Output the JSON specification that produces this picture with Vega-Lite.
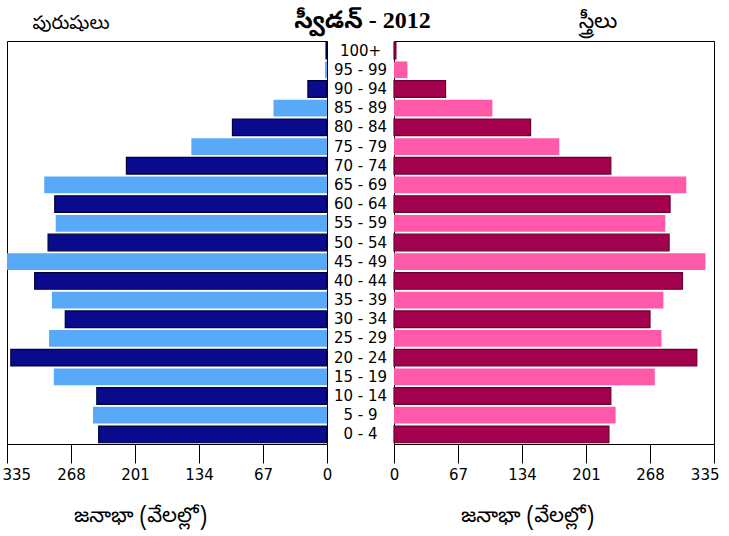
{
  "$schema": "https://vega.github.io/schema/vega-lite/v6.json",
  "padding": {"left": 1, "top": 9, "right": 5, "bottom": 5},
  "background": "white",
  "spacing": 0,
  "bounds": "flush",
  "data": {
    "values": [
      {"age": "100+", "male": 1, "female": 2},
      {"age": "95 - 99", "male": 2, "female": 14},
      {"age": "90 - 94", "male": 20, "female": 54},
      {"age": "85 - 89", "male": 56, "female": 103},
      {"age": "80 - 84", "male": 99, "female": 143},
      {"age": "75 - 79", "male": 142, "female": 173},
      {"age": "70 - 74", "male": 210, "female": 227},
      {"age": "65 - 69", "male": 296, "female": 306},
      {"age": "60 - 64", "male": 285, "female": 289},
      {"age": "55 - 59", "male": 284, "female": 284},
      {"age": "50 - 54", "male": 292, "female": 288},
      {"age": "45 - 49", "male": 335, "female": 326},
      {"age": "40 - 44", "male": 306, "female": 302},
      {"age": "35 - 39", "male": 288, "female": 282},
      {"age": "30 - 34", "male": 274, "female": 268},
      {"age": "25 - 29", "male": 291, "female": 280},
      {"age": "20 - 24", "male": 331, "female": 317},
      {"age": "15 - 19", "male": 286, "female": 273},
      {"age": "10 - 14", "male": 241, "female": 227},
      {"age": "5 - 9", "male": 245, "female": 232},
      {"age": "0 - 4", "male": 239, "female": 225}
    ]
  },
  "config": {
    "view": {"stroke": "black", "strokeWidth": 1},
    "axis": {
      "grid": false,
      "domain": false,
      "tickColor": "black",
      "tickSize": 19,
      "tickWidth": 1,
      "labelFont": "DejaVu Sans",
      "labelFontSize": 15,
      "labelColor": "black",
      "labelPadding": 4,
      "labelFlush": false,
      "labelOverlap": false,
      "titleFont": "Noto Sans Telugu, Noto Sans, DejaVu Sans, sans-serif",
      "titleFontSize": 21,
      "titleFontWeight": "normal",
      "titleColor": "black",
      "titleX": 133,
      "titleY": 71,
      "titleBaseline": "middle",
      "titleAlign": "center"
    },
    "title": {
      "font": "Noto Sans Telugu, Noto Sans, DejaVu Sans, sans-serif",
      "fontSize": 20,
      "fontWeight": "normal",
      "color": "black",
      "anchor": "middle",
      "baseline": "middle",
      "offset": 8
    }
  },
  "resolve": {"scale": {"x": "independent"}},
  "hconcat": [
    {
      "width": 320,
      "height": 403,
      "title": {"text": "పురుషులు", "dx": -96, "fontSize": 19},
      "mark": {"type": "bar"},
      "encoding": {
        "y": {"field": "age", "type": "nominal", "sort": null, "axis": null, "scale": {"paddingInner": 0.13, "paddingOuter": 0.065}},
        "x": {
          "field": "male", "type": "quantitative",
          "scale": {"domain": [0, 335], "reverse": true, "nice": false},
          "axis": {
            "title": "జనాభా (వేలల్లో)",
            "values": [0, 67, 134, 201, 268, 335],
            "labelAlign": {"condition": {"test": "datum.value === 335", "value": "left"}, "value": "center"},
            "labelOffset": {"condition": {"test": "datum.value === 335", "value": -5}, "value": 0}
          }
        },
        "fill": {"condition": {"test": "indexof(['100+','90 - 94','80 - 84','70 - 74','60 - 64','50 - 54','40 - 44','30 - 34','20 - 24','10 - 14','0 - 4'], datum.age) >= 0", "value": "#0a0a8c"}, "value": "#58aaf8"},
        "stroke": {"value": "#00003c"},
        "strokeWidth": {"condition": {"test": "indexof(['100+','90 - 94','80 - 84','70 - 74','60 - 64','50 - 54','40 - 44','30 - 34','20 - 24','10 - 14','0 - 4'], datum.age) >= 0", "value": 1.2}, "value": 0}
      }
    },
    {
      "width": 67,
      "height": 403,
      "view": {"stroke": null},
      "title": {"text": "స్వీడన్ - 2012", "font": "Liberation Serif, Noto Sans Telugu, serif", "fontWeight": "bold", "fontSize": 24, "dx": 2},
      "mark": {"type": "text", "font": "DejaVu Sans", "fontSize": 15, "color": "black", "align": "center", "baseline": "middle"},
      "encoding": {
        "y": {"field": "age", "type": "nominal", "sort": null, "axis": null, "scale": {"paddingInner": 0.13, "paddingOuter": 0.065}},
        "text": {"field": "age"}
      }
    },
    {
      "width": 320,
      "height": 403,
      "title": {"text": "స్త్రీలు", "dx": 44, "fontSize": 22},
      "mark": {"type": "bar"},
      "encoding": {
        "y": {"field": "age", "type": "nominal", "sort": null, "axis": null, "scale": {"paddingInner": 0.13, "paddingOuter": 0.065}},
        "x": {
          "field": "female", "type": "quantitative",
          "scale": {"domain": [0, 335], "nice": false},
          "axis": {
            "title": "జనాభా (వేలల్లో)",
            "values": [0, 67, 134, 201, 268, 335],
            "labelAlign": {"condition": {"test": "datum.value === 335", "value": "right"}, "value": "center"},
            "labelOffset": {"condition": {"test": "datum.value === 335", "value": 5}, "value": 0}
          }
        },
        "fill": {"condition": {"test": "indexof(['100+','90 - 94','80 - 84','70 - 74','60 - 64','50 - 54','40 - 44','30 - 34','20 - 24','10 - 14','0 - 4'], datum.age) >= 0", "value": "#a3004e"}, "value": "#ff5aaa"},
        "stroke": {"value": "#6a0030"},
        "strokeWidth": {"condition": {"test": "indexof(['100+','90 - 94','80 - 84','70 - 74','60 - 64','50 - 54','40 - 44','30 - 34','20 - 24','10 - 14','0 - 4'], datum.age) >= 0", "value": 1.2}, "value": 0}
      }
    }
  ]
}
